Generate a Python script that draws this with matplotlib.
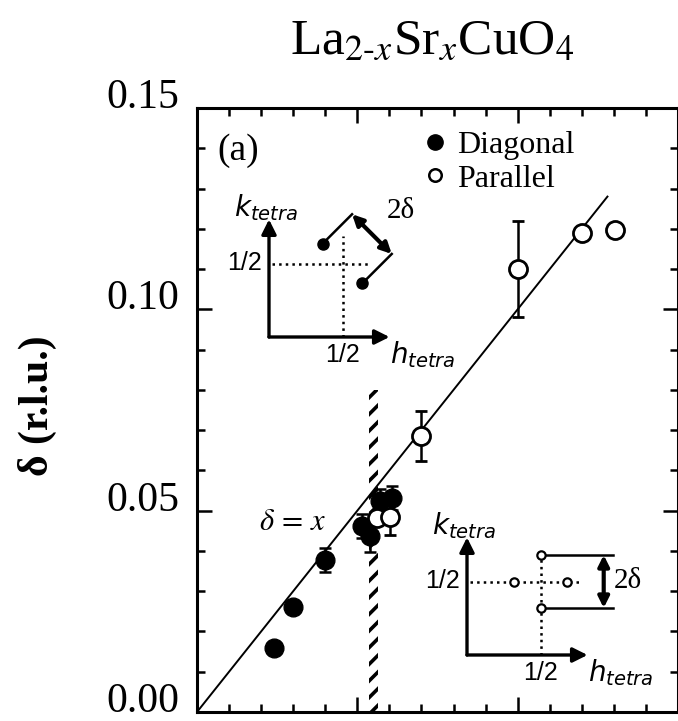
import numpy as np
import matplotlib
matplotlib.use('Agg')
import matplotlib.pyplot as plt
from matplotlib.lines import Line2D
from matplotlib.ticker import MultipleLocator, NullFormatter

plt.rcParams['font.family'] = ['Liberation Serif', 'DejaVu Serif']
plt.rcParams['mathtext.fontset'] = 'stix'
plt.rcParams['hatch.linewidth'] = 2.6

# incommensurability delta vs hole concentration x
diag_x = [0.024, 0.030, 0.040, 0.0515, 0.054, 0.057, 0.0608]
diag_y = [0.016, 0.026, 0.0377, 0.0462, 0.0437, 0.0524, 0.0531]
diag_err = [0.0, 0.0, 0.003, 0.003, 0.004, 0.003, 0.003]

para_x = [0.0561, 0.0602, 0.070, 0.100, 0.120, 0.1305]
para_y = [0.0482, 0.0484, 0.0685, 0.110, 0.119, 0.1197]
para_err = [0.0, 0.0045, 0.0062, 0.012, 0.0, 0.0]

# delta = x guide line
guide_x = np.array([0.0, 0.128])
x_c = 0.055          # diagonal -> parallel boundary
x_c_top = 0.08

# reciprocal-space sketches (units of the tetragonal lattice)
half = 0.5
diag_h = [0.365, 0.635]
diag_k = [0.635, 0.365]
diag_tail = 0.2
para_d = 0.18
arrow_len = 0.82

W, H = 678, 721
fig = plt.figure(figsize=(W / 100, H / 100), dpi=100)

ax = fig.add_axes([197 / W, 1 - 712 / H, 481 / W, 604 / H])
ax.set_xlim(0, 0.15)
ax.set_ylim(0, 0.15)

ax.bar(x_c, x_c_top, width=0.0028, bottom=0, align='center', fill=False,
       hatch='//', edgecolor='k', linewidth=0, zorder=1)
ax.plot(guide_x, guide_x, color='k', lw=1.4, zorder=2)

ax.errorbar(diag_x, diag_y, yerr=diag_err, fmt='o', color='k', ms=13.5,
            elinewidth=1.8, capsize=4, capthick=1.8, zorder=3)
ax.errorbar(para_x, para_y, yerr=para_err, fmt='o', color='k', mfc='white',
            mec='k', mew=2.0, ms=13, elinewidth=1.8, capsize=4,
            capthick=1.8, zorder=4)

ax.yaxis.set_major_locator(MultipleLocator(0.05))
ax.yaxis.set_minor_locator(MultipleLocator(0.01))
ax.xaxis.set_major_locator(MultipleLocator(0.05))
ax.xaxis.set_minor_locator(MultipleLocator(0.01))
ax.xaxis.set_major_formatter(NullFormatter())
ax.yaxis.set_major_formatter(plt.FuncFormatter(lambda v, p: f'{v:.2f}'))
ax.tick_params(which='both', direction='in', top=True, right=True, width=1.8,
               labelsize=30, pad=13)
ax.tick_params(which='major', length=11)
ax.tick_params(which='minor', length=6)
for sp in ax.spines.values():
    sp.set_linewidth(2.2)

# tick labels sit with their baseline on the tick
for lab in ax.get_yticklabels():
    lab.set_verticalalignment('baseline')

ax.text(0.085, 0.930, '(a)', transform=ax.transAxes, fontsize=27,
        ha='center', va='center')
ax.text(0.198, 0.313, r'$\delta\,=\,x$', transform=ax.transAxes, fontsize=22,
        ha='center', va='center')

handles = [
    Line2D([], [], marker='o', ls='none', color='k', ms=11, label='Diagonal'),
    Line2D([], [], marker='o', ls='none', mfc='white', mec='k', mew=1.8,
           ms=9, label='Parallel'),
]
ax.legend(handles=handles, loc='upper left', bbox_to_anchor=(0.468, 0.962),
          frameon=False, fontsize=23, handlelength=0.8, handletextpad=0.3,
          labelspacing=0.12, borderpad=0, borderaxespad=0)

fig.text(432 / W, 1 - 42 / H, r'La$_{2\text{-}x}$Sr$_x$CuO$_4$',
         fontsize=37, ha='center', va='center')
fig.text(37 / W, 1 - 406 / H, 'δ (r.l.u.)', rotation=90, fontsize=30,
         fontweight='bold', ha='center', va='center')


def sketch_axes(ox, oy):
    s = 147
    a = fig.add_axes([(ox - 0.5 * s) / W, 1 - (oy + 0.3 * s) / H,
                      1.7 * s / W, 1.3 * s / H], zorder=5)
    a.set_xlim(-0.5, 1.2)
    a.set_ylim(-0.3, 1.0)
    a.set_axis_off()
    arrow = dict(arrowstyle='-|>', lw=2.4, color='k', mutation_scale=22,
                 shrinkA=0, shrinkB=0)
    a.annotate('', xy=(arrow_len, 0), xytext=(0, 0), arrowprops=arrow)
    a.annotate('', xy=(0, arrow_len - 0.02), xytext=(0, 0), arrowprops=arrow)
    sans = ['Liberation Sans', 'DejaVu Sans']
    a.text(-0.05, half, '1/2', family=sans, fontsize=18, ha='right',
           va='center')
    a.text(half, -0.12, '1/2', family=sans, fontsize=18, ha='center',
           va='center')
    a.text(0.82, -0.12, r'$h_{tetra}$', family=sans,
           math_fontfamily='dejavusans', fontsize=20, ha='left', va='center')
    a.text(-0.02, 0.88, r'$k_{tetra}$', family=sans,
           math_fontfamily='dejavusans', fontsize=20, ha='center',
           va='center')
    return a


# diagonal peaks
ins1 = sketch_axes(269, 337)
ins1.plot([0.02, 0.68], [half, half], ls=':', color='k', lw=1.8)
ins1.plot([half, half], [0, 0.69], ls=':', color='k', lw=1.8)
for h, k in zip(diag_h, diag_k):
    ins1.plot([h, h + diag_tail], [k, k + diag_tail], color='k', lw=1.8)
ins1.plot(diag_h, diag_k, 'o', color='k', ms=8)
ins1.annotate('', xy=(diag_h[1] + diag_tail, diag_k[1] + diag_tail),
              xytext=(diag_h[0] + diag_tail, diag_k[0] + diag_tail),
              arrowprops=dict(arrowstyle='<|-|>', lw=3, color='k',
                              mutation_scale=16, shrinkA=0, shrinkB=0))
ins1.text(0.80, 0.86, '2δ', fontsize=21, ha='left', va='center')

# parallel peaks
ins2 = sketch_axes(467, 655)
ins2.plot([0.02, 0.76], [half, half], ls=':', color='k', lw=1.8)
ins2.plot([half, half], [0, 0.69], ls=':', color='k', lw=1.8)
for k in (half - para_d, half + para_d):
    ins2.plot([half, 0.99], [k, k], color='k', lw=1.8)
ins2.plot([half - para_d, half + para_d, half, half],
          [half, half, half - para_d, half + para_d], 'o', mfc='white',
          mec='k', mew=1.6, ms=6)
ins2.annotate('', xy=(0.93, half + para_d), xytext=(0.93, half - para_d),
              arrowprops=dict(arrowstyle='<|-|>', lw=3, color='k',
                              mutation_scale=16, shrinkA=0, shrinkB=0))
ins2.text(1.0, half, '2δ', fontsize=21, ha='left', va='center')

fig.savefig('out.png', dpi=100)
